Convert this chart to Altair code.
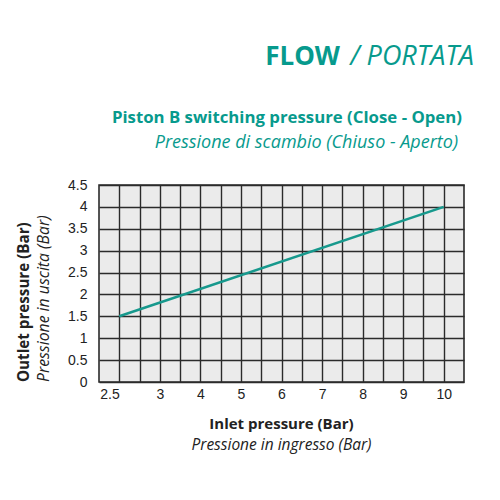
import altair as alt
import pandas as pd

# ---- data ----
inlet = [2.5, 10.0]          # Inlet pressure (Bar)
outlet = [1.5, 4.0]          # Outlet pressure (Bar)

x_grid = [2.5, 2.75, 3, 3.5, 4, 4.5, 5, 5.5, 6, 6.5, 7, 7.5, 8, 8.5, 9, 9.5, 10]
y_grid = [0, 0.5, 1, 1.5, 2, 2.5, 3, 3.5, 4, 4.5]

title_bold = ["FLOW"]
title_ital = ["/ PORTATA"]
sub_bold = ["Piston B switching pressure (Close - Open)"]
sub_ital = ["Pressione di scambio (Chiuso - Aperto)"]
x_title_bold = ["Inlet pressure (Bar)"]
x_title_ital = ["Pressione in ingresso (Bar)"]
y_title_bold = ["Outlet pressure (Bar)"]
y_title_ital = ["Pressione in uscita (Bar)"]

TEAL = "#079a8d"
DARK = "#222222"
FONT = "Open Sans"
W, H = 365, 197
u = W / 18

df = pd.DataFrame({"inlet": inlet, "outlet": outlet})

line = alt.Chart(df).mark_line(color="#17998d", strokeWidth=2.6).encode(
    x=alt.X(
        "inlet:Q",
        scale=alt.Scale(domain=[2.25, 3, 10.5], range=[0, 3 * u, W], nice=False, zero=False),
        axis=alt.Axis(
            values=x_grid,
            title=None,
            labelExpr="(datum.value == 2.5 || datum.value % 1 == 0) ? '' + datum.value : ''",
            labelAlign={"condition": {"test": "datum.value == 2.5", "value": "right"}, "value": "center"},
            labelPadding=5,
            labelFontSize=14,
        ),
    ),
    y=alt.Y(
        "outlet:Q",
        scale=alt.Scale(domain=[0, 4.5], nice=False, zero=False),
        axis=alt.Axis(
            values=y_grid,
            title=None,
            labelExpr="'' + datum.value",
            labelPadding=12,
            labelFontSize=14,
        ),
    ),
)


def txt(values, x, y, size, weight="normal", style="normal", color=DARK, align="left", angle=0, font=FONT):
    d = pd.DataFrame({"t": values})
    kw = dict(fontSize=size, fontWeight=weight, fontStyle=style, color=color, align=align,
              baseline="alphabetic", font=font)
    if angle:
        kw["angle"] = angle
    return alt.Chart(d).mark_text(**kw).encode(text="t:N", x=alt.value(x), y=alt.value(y))


layers = [
    line,
    txt(title_bold, 241, -120, 26, weight="bold", color=TEAL, align="right"),
    txt(title_ital, 375, -120, 27, style="italic", color=TEAL, align="right"),
    txt(sub_bold, 363, -62, 16.8, weight="bold", color=TEAL, align="right"),
    txt(sub_ital, 359, -37, 18, style="italic", color=TEAL, align="right"),
    txt(x_title_bold, W / 2, 244, 15, weight="bold", align="center"),
    txt(x_title_ital, W / 2, 265, 15.5, style="italic", align="center"),
    txt(y_title_bold, -70, H, 15.2, weight="bold", align="left", angle=270),
    txt(y_title_ital, -50, H, 15.8, style="italic", align="left", angle=270),
]

chart = alt.layer(*layers).properties(
    width=W,
    height=H,
    autosize=alt.AutoSizeParams(type="none"),
    padding={"left": 91, "top": 177, "right": 28, "bottom": 100},
).configure_view(
    fill="#ebebeb", stroke="#2b2b2b", strokeWidth=1.6
).configure_axis(
    grid=True, gridColor="#2b2b2b", gridWidth=1.4, gridOpacity=1,
    domain=False, ticks=False,
    labelFont="Liberation Sans", labelColor=DARK,
)

chart.save("out.html", embed_options={"renderer": "svg", "actions": False})
